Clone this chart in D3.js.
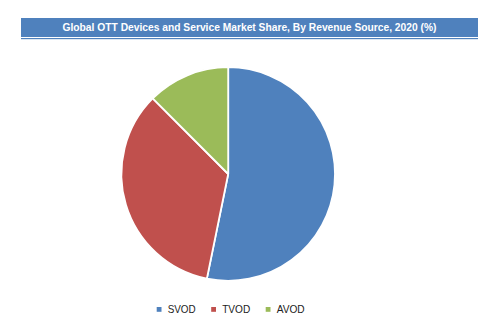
<!DOCTYPE html>
<html>
<head>
<meta charset="utf-8">
<script src="https://cdn.jsdelivr.net/npm/d3@7"></script>
<style>
  html, body { margin: 0; padding: 0; background: #fff; }
  svg { display: block; }
</style>
</head>
<body>
<svg id="chart" width="498" height="330"></svg>
<script>
const title = "Global OTT Devices and Service Market Share, By Revenue Source, 2020 (%)";
const categories = ["SVOD", "TVOD", "AVOD"];
const values = [53.2, 34.3, 12.5];
const colors = ["#4F81BD", "#C0504D", "#9BBB59"];

const svg = d3.select("#chart");
const W = 498, H = 330;
svg.append("rect").attr("width", W).attr("height", H).attr("fill", "#fff");

// title bar
svg.append("rect").attr("x", 21).attr("y", 18).attr("width", 457).attr("height", 19).attr("fill", "#4F81BD");
svg.append("rect").attr("x", 21).attr("y", 37).attr("width", 457).attr("height", 1).attr("fill", "#fff");
svg.append("rect").attr("x", 21).attr("y", 38).attr("width", 457).attr("height", 1.2).attr("fill", "#4F81BD");
svg.append("text")
  .attr("x", 249.5).attr("y", 31)
  .attr("text-anchor", "middle")
  .attr("font-family", "'Liberation Sans', Arial, sans-serif")
  .attr("font-weight", "bold")
  .attr("font-size", 11)
  .attr("textLength", 374)
  .attr("lengthAdjust", "spacingAndGlyphs")
  .attr("fill", "#fff")
  .text(title);

// pie
const cx = 228.2, cy = 174, r = 106.8;
const data = categories.map((c, i) => ({ name: c, value: values[i], color: colors[i] }));
const pie = d3.pie().sort(null).value(d => d.value);
const arc = d3.arc().innerRadius(0).outerRadius(r);
const g = svg.append("g").attr("transform", `translate(${cx},${cy})`);
g.selectAll("path").data(pie(data)).join("path")
  .attr("d", arc)
  .attr("fill", d => d.data.color)
  .attr("stroke", "#fff")
  .attr("stroke-width", 1.8)
  .attr("stroke-linejoin", "round");

// legend
const legendX = d3.scalePoint().domain(categories).range([156.7, 265.7]);
const lg = svg.append("g");
categories.forEach((c, i) => {
  const x = legendX(c);
  lg.append("rect").attr("x", x).attr("y", 307).attr("width", 4.8).attr("height", 4.8).attr("fill", colors[i]);
  lg.append("text").attr("x", x + 11).attr("y", 313.3)
    .attr("font-family", "'Liberation Sans', Arial, sans-serif")
    .attr("font-size", 10.5).attr("fill", "#222")
    .attr("textLength", 28).attr("lengthAdjust", "spacingAndGlyphs")
    .text(c);
});
</script>
</body>
</html>
